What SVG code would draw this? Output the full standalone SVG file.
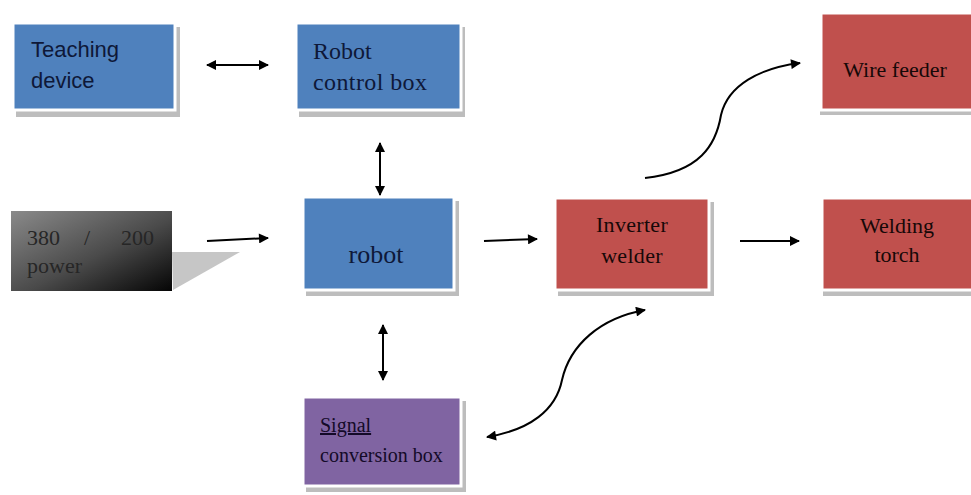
<svg xmlns="http://www.w3.org/2000/svg" width="971" height="495" viewBox="0 0 971 495">
  <style>
    .serif { font-family: "Liberation Serif", "Times New Roman", serif; }
    .sans { font-family: "Liberation Sans", Arial, sans-serif; }
    .blue { fill: #4F81BD; stroke: #ffffff; stroke-width: 3; }
    .red { fill: #C0504D; stroke: #ffffff; stroke-width: 3; }
    .purple { fill: #8064A2; stroke: #ffffff; stroke-width: 3; }
    .shadow { fill: #bdbdbd; }
    .lblue { fill: #0e1838; }
    .ldark { fill: #160808; }
    .lpurple { fill: #140a28; }
    .conn { fill: none; stroke: #000; stroke-width: 2; }
  </style>
  <defs>
    <marker id="head" viewBox="0 0 10 10" refX="9" refY="5" markerWidth="11" markerHeight="10" orient="auto-start-reverse" markerUnits="userSpaceOnUse">
      <path d="M0,0 L10,5 L0,10 z" fill="#000"/>
    </marker>
    <linearGradient id="powerFill" x1="0" y1="0" x2="1" y2="1">
      <stop offset="0" stop-color="#8a8a8a"/>
      <stop offset="0.55" stop-color="#4a4a4a"/>
      <stop offset="1" stop-color="#050505"/>
    </linearGradient>
  </defs>

  <rect width="971" height="495" fill="#ffffff"/>

  <g id="teaching-device">
    <rect class="shadow" x="16" y="27" width="164" height="90"/>
    <rect class="blue" x="13" y="23" width="162" height="87"/>
    <text class="sans lblue" font-size="22" x="31" y="57">Teaching</text>
    <text class="sans lblue" font-size="22" x="31" y="88">device</text>
  </g>

  <g id="robot-control-box">
    <rect class="shadow" x="299" y="27" width="166" height="90"/>
    <rect class="blue" x="296" y="23" width="165" height="87"/>
    <text class="serif lblue" font-size="24" x="313" y="59">Robot</text>
    <text class="serif lblue" font-size="24" x="313" y="90" letter-spacing="0.4">control box</text>
  </g>

  <g id="power">
    <polygon points="172,252 240,252 173,290" fill="#c6c6c6"/>
    <rect x="11" y="211" width="161" height="80" fill="url(#powerFill)"/>
    <text class="serif" font-size="22" fill="#262626" x="27" y="245">380</text>
    <text class="serif" font-size="22" fill="#262626" x="84" y="245">/</text>
    <text class="serif" font-size="22" fill="#262626" x="121" y="245">200</text>
    <text class="serif" font-size="22" fill="#262626" x="27" y="273">power</text>
  </g>

  <g id="robot">
    <rect class="shadow" x="306" y="201" width="153" height="95"/>
    <rect class="blue" x="303" y="197" width="151" height="93"/>
    <text class="serif lblue" font-size="26" x="376" y="263" text-anchor="middle">robot</text>
  </g>

  <g id="inverter-welder">
    <rect class="shadow" x="558" y="202" width="156" height="94"/>
    <rect class="red" x="555" y="198" width="154" height="92"/>
    <text class="serif ldark" font-size="22" x="632" y="232" text-anchor="middle" letter-spacing="0.3">Inverter</text>
    <text class="serif ldark" font-size="22" x="632" y="263" text-anchor="middle" letter-spacing="0.3">welder</text>
  </g>

  <g id="welding-torch">
    <rect class="shadow" x="823" y="202" width="152" height="94"/>
    <rect class="red" x="822" y="198" width="152" height="92"/>
    <text class="serif ldark" font-size="22" x="897" y="233" text-anchor="middle">Welding</text>
    <text class="serif ldark" font-size="22" x="897" y="262" text-anchor="middle">torch</text>
  </g>

  <g id="wire-feeder">
    <rect class="shadow" x="820" y="17" width="155" height="98"/>
    <rect class="red" x="821" y="13" width="154" height="97"/>
    <text class="serif ldark" font-size="22" x="895" y="77" text-anchor="middle">Wire feeder</text>
  </g>

  <g id="signal-conversion-box">
    <rect class="shadow" x="306" y="401" width="160" height="91"/>
    <rect class="purple" x="303" y="397" width="158" height="89"/>
    <text class="serif lpurple" font-size="20" x="320" y="432" text-decoration="underline">Signal</text>
    <text class="serif lpurple" font-size="20" x="320" y="462">conversion box</text>
  </g>

  <g id="connectors">
    <line class="conn" x1="207" y1="65" x2="268" y2="65" marker-start="url(#head)" marker-end="url(#head)"/>
    <line class="conn" x1="380" y1="143" x2="380" y2="195" marker-start="url(#head)" marker-end="url(#head)"/>
    <line class="conn" x1="207" y1="241" x2="268" y2="238" marker-end="url(#head)"/>
    <line class="conn" x1="484" y1="241" x2="537" y2="239" marker-end="url(#head)"/>
    <line class="conn" x1="740" y1="241" x2="799" y2="241" marker-end="url(#head)"/>
    <line class="conn" x1="383" y1="325" x2="383" y2="380" marker-start="url(#head)" marker-end="url(#head)"/>
    <path class="conn" d="M645,178 C700,172 716,145 721,115 C728,85 760,68 800,63" marker-end="url(#head)"/>
    <path class="conn" d="M487,437 C530,430 556,410 562,380 C570,345 600,318 645,310" marker-start="url(#head)" marker-end="url(#head)"/>
  </g>
</svg>
